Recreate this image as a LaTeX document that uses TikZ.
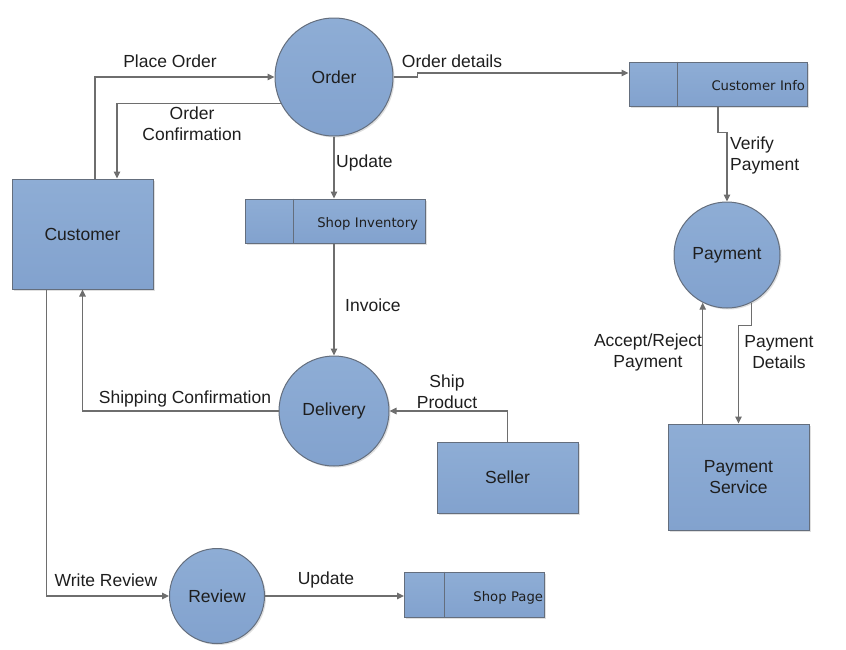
\documentclass[tikz,border=0pt]{standalone}
\usepackage{fontspec}
\setmainfont{Liberation Sans}
\newfontfamily\storefont{DejaVu Sans}
\usetikzlibrary{arrows.meta,shadows,calc}
\definecolor{boxtop}{RGB}{142,173,213}
\definecolor{boxbot}{RGB}{130,162,206}
\definecolor{boxline}{RGB}{100,110,125}
\definecolor{flowline}{RGB}{110,110,110}
\definecolor{txt}{RGB}{30,30,30}
\tikzset{
  shapebase/.style={draw=boxline, line width=1pt, top color=boxtop, bottom color=boxbot,
    drop shadow={shadow xshift=1.5pt, shadow yshift=-1.5pt, opacity=0.25},
    text=txt, font=\fontsize{17.5}{21}\selectfont, align=center},
  proc/.style={shapebase, circle, inner sep=0pt},
  entity/.style={shapebase, rectangle, inner sep=0pt},
  store/.style={shapebase, rectangle, inner sep=0pt, align=right,
    text height=13pt, text depth=0pt,
    font=\storefont\fontsize{13.2}{15}\selectfont},
  flow/.style={draw=flowline, line width=1.1pt, -{Triangle[length=7pt,width=6.5pt]}},
  lbl/.style={text=txt, font=\fontsize{17.5}{21}\selectfont, inner sep=0pt, align=center}
}
\begin{document}
\begin{tikzpicture}[x=1pt,y=-1pt]
\useasboundingbox (0,0) rectangle (846,649);
% processes
\node[proc, minimum size=118pt] (order) at (334,77) {Order};
\node[proc, minimum size=106pt] (pay) at (727,255) {Payment};
\node[proc, minimum size=110pt] (deliv) at (334,411) {Delivery};
\node[proc, minimum size=95pt] (review) at (217,596) {Review};
% entities
\node[entity, minimum width=141pt, minimum height=110pt] (cust) at (82.5,234) {Customer};
\node[entity, minimum width=141pt, minimum height=106pt] (psvc) at (738.5,477) {Payment\\Service};
\node[entity, minimum width=141pt, minimum height=71pt] (seller) at (507.5,477.5) {Seller};
% stores
\node[store, minimum width=180pt, minimum height=44pt, text width=166pt] (inv) at (335,221) {Shop Inventory};
\draw[draw=boxline, line width=1pt] ([xshift=49pt]inv.north west) -- ([xshift=49pt]inv.south west);
\node[store, minimum width=178pt, minimum height=44pt, text width=174pt] (cinfo) at (718,84) {Customer Info};
\draw[draw=boxline, line width=1pt] ([xshift=49pt]cinfo.north west) -- ([xshift=49pt]cinfo.south west);
\node[store, minimum width=140pt, minimum height=45pt, text width=137pt] (spage) at (474.5,594.5) {Shop Page};
\draw[draw=boxline, line width=1pt] ([xshift=40pt]spage.north west) -- ([xshift=40pt]spage.south west);
% flows
\draw[flow] ([xshift=12.5pt]cust.north) |- (order.west);
\draw[flow] (order.206) -| ([xshift=34.5pt]cust.north);
\draw[flow] (order.south) -- (inv.north -| order.south);
\draw[flow] (order.east) -- ++(24,0) |- ([yshift=11pt]cinfo.west);
\draw[flow] (cinfo.south) -- ++(0,26) -| (pay.north);
\draw[flow] (inv.south -| deliv.north) -- (deliv.north);
\draw[flow] (deliv.west) -| (cust.south);
\draw[flow] ([xshift=-36pt]cust.south) |- (review.west);
\draw[flow] (seller.north) |- (deliv.east);
\draw[flow] (review.east) -- (review.east -| spage.west);
\draw[flow] (psvc.north -| pay.-117) -- (pay.-117);
\draw[flow] (pay.-63) -- ++(0,23) -| (psvc.north);
% labels
\node[lbl] at (170,61) {Place Order};
\node[lbl] at (192,124) {Order\\Confirmation};
\node[lbl, anchor=west] at (336,163) {Update};
\node[lbl] at (452,61) {Order details};
\node[lbl, anchor=west, align=left] at (730,155) {Verify\\Payment};
\node[lbl, anchor=west] at (345,305) {Invoice};
\node[lbl] at (185,399) {Shipping Confirmation};
\node[lbl] at (447,392) {Ship\\Product};
\node[lbl] at (106,580) {Write Review};
\node[lbl] at (326,580) {Update};
\node[lbl] at (648,352) {Accept/Reject\\Payment};
\node[lbl] at (779,352) {Payment\\Details};
\end{tikzpicture}
\end{document}
